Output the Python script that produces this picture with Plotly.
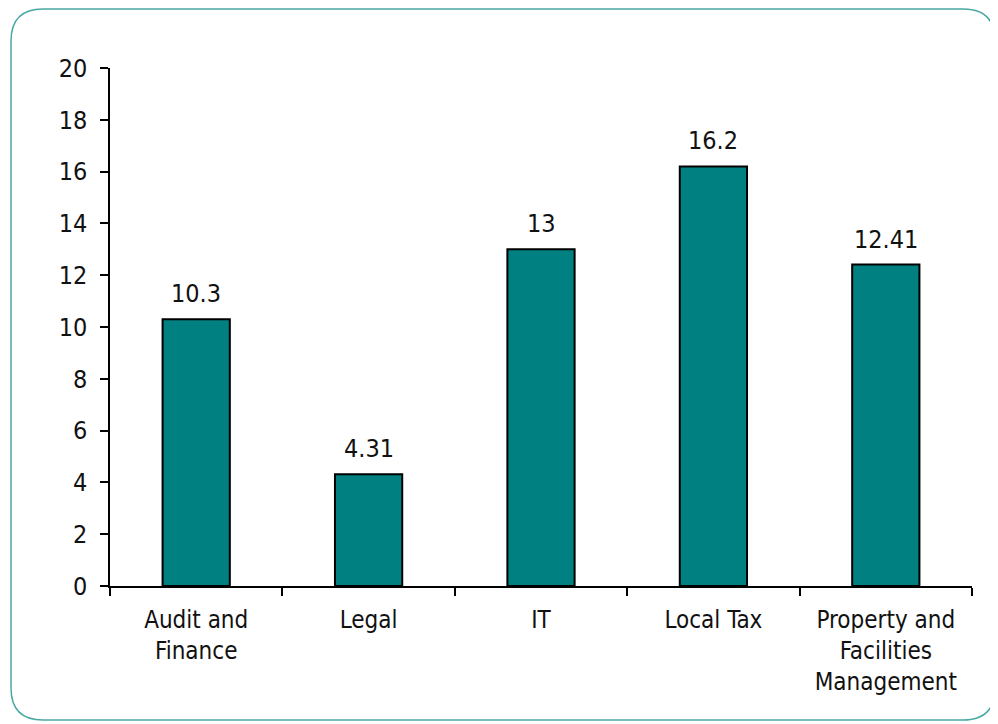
import plotly.graph_objects as go

categories = ["Audit and<br>Finance", "Legal", "IT", "Local Tax", "Property and<br>Facilities<br>Management"]
values = [10.3, 4.31, 13, 16.2, 12.41]
value_labels = ["10.3", "4.31", "13", "16.2", "12.41"]
y_ticks = [0, 2, 4, 6, 8, 10, 12, 14, 16, 18, 20]

OFF = 8  # page offset
W, H = 998, 724
L, R, T, B = 110 - OFF, 26 + OFF, 68 - OFF, 138 + OFF
pw, ph = W - L - R, H - T - B

def px(x):
    return (x - OFF - L) / pw

def py(y):
    return (H - B - (y - OFF)) / ph

FONT = "DejaVu Sans Condensed, Liberation Sans Narrow, sans-serif"

fig = go.Figure()
fig.add_trace(go.Bar(
    x=categories, y=values,
    marker=dict(color="#008080", line=dict(color="black", width=2)),
    width=0.39,
))
for c, v, t in zip(categories, values, value_labels):
    fig.add_annotation(x=c, y=v, text=t, showarrow=False, yanchor="bottom",
                       yshift=9, font=dict(family=FONT, size=25, color="#111"))

# rounded border
x0, x1, y0, y1, r = 11, 995, 9, 720, 32
path = (f"M {px(x0+r)},{py(y0)} L {px(x1-r)},{py(y0)} Q {px(x1)},{py(y0)} {px(x1)},{py(y0+r)} "
        f"L {px(x1)},{py(y1-r)} Q {px(x1)},{py(y1)} {px(x1-r)},{py(y1)} "
        f"L {px(x0+r)},{py(y1)} Q {px(x0)},{py(y1)} {px(x0)},{py(y1-r)} "
        f"L {px(x0)},{py(y0+r)} Q {px(x0)},{py(y0)} {px(x0+r)},{py(y0)} Z")
fig.add_shape(type="path", path=path, xref="paper", yref="paper",
              line=dict(color="#4aa8a2", width=1.5), layer="below")

fig.update_layout(
    width=W, height=H,
    margin=dict(l=L, r=R, t=T, b=B),
    plot_bgcolor="white", paper_bgcolor="white",
    showlegend=False,
    font=dict(family=FONT, size=24, color="#111"),
)
fig.update_xaxes(
    showline=True, linecolor="black", linewidth=2,
    ticks="outside", ticklen=8, tickwidth=1.5, tickcolor="black",
    tickson="boundaries", showgrid=False, ticklabelstandoff=11,
    tickfont=dict(family=FONT, size=24, color="#111"),
)
fig.update_yaxes(
    range=[0, 20], tickvals=y_ticks,
    showline=True, linecolor="black", linewidth=1.5,
    ticks="outside", ticklen=8, tickwidth=1.5, tickcolor="black",
    showgrid=False, zeroline=False, ticklabelstandoff=8,
    tickfont=dict(family=FONT, size=25, color="#111"),
)

fig.write_html("out.html")
